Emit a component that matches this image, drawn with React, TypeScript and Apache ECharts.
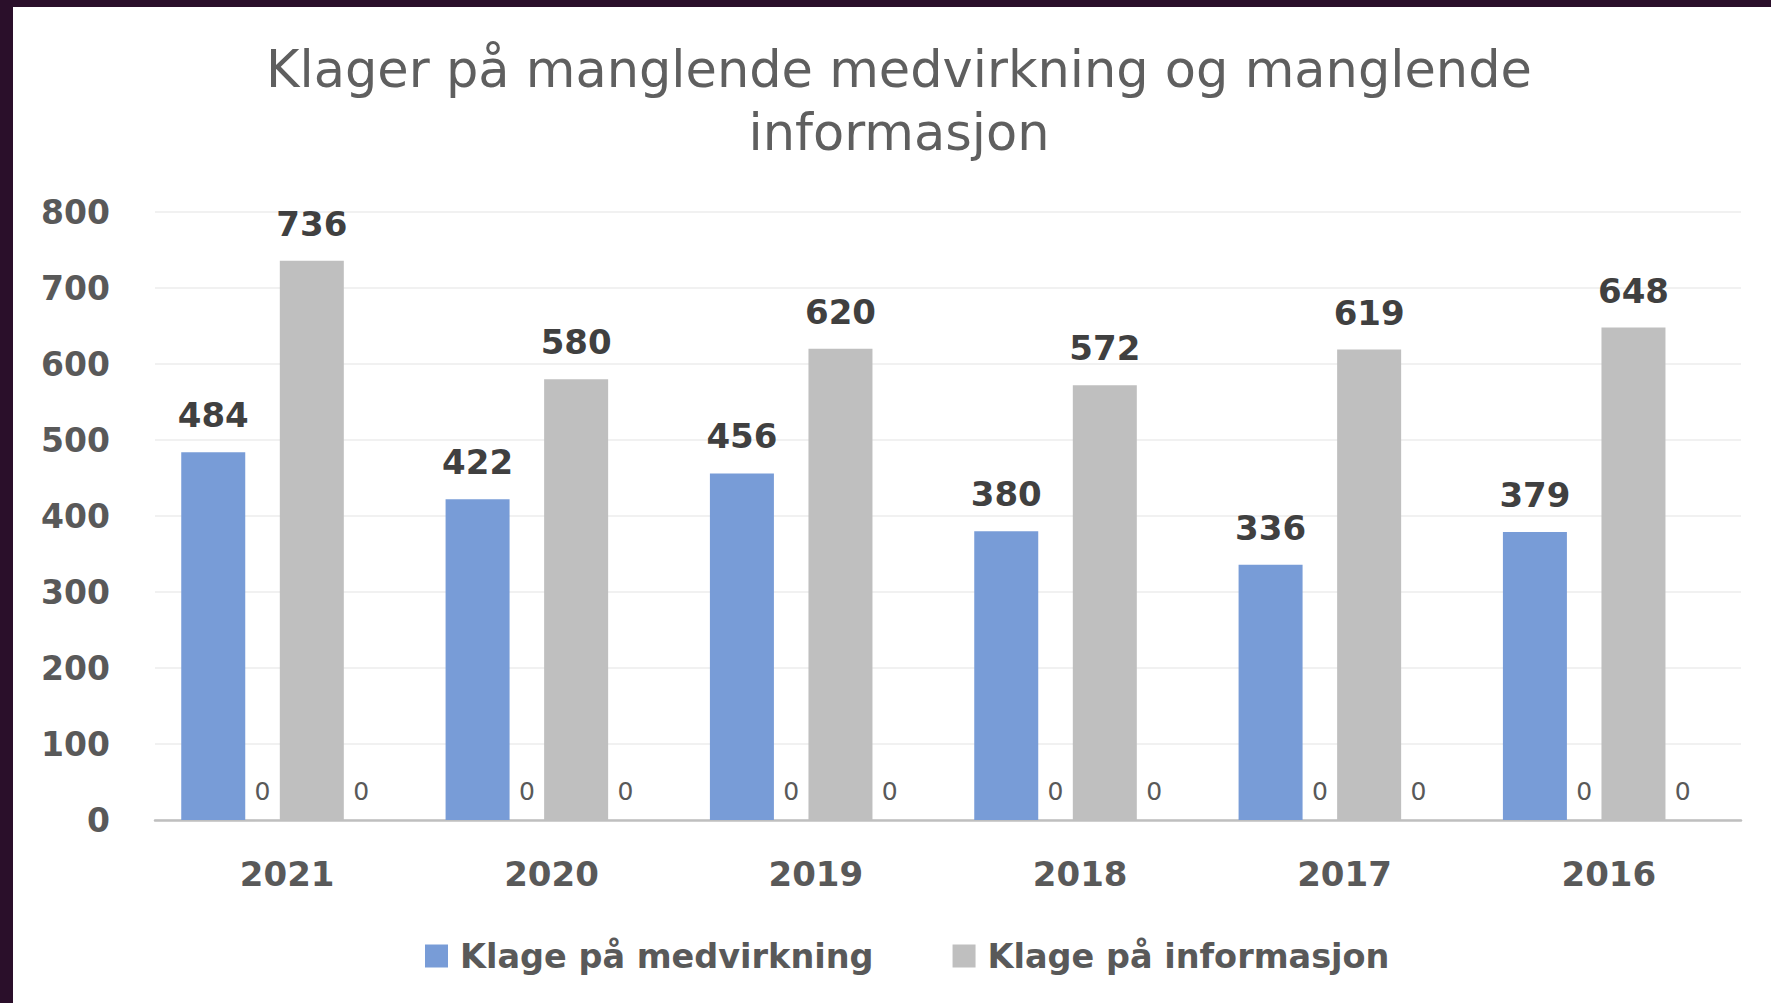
import React, { useEffect, useRef } from "react";
import * as echarts from "echarts";

const titleLines = ["Klager på manglende medvirkning og manglende", "informasjon"];
const years = ["2021", "2020", "2019", "2018", "2017", "2016"];
const medvirkning = [484, 422, 456, 380, 336, 379];
const informasjon = [736, 580, 620, 572, 619, 648];
const ekstraA = [0, 0, 0, 0, 0, 0];
const ekstraB = [0, 0, 0, 0, 0, 0];
const yTicks = { min: 0, max: 800, interval: 100 };
const legendNames = ["Klage på medvirkning", "Klage på informasjon"];

const FONT = "DejaVu Sans";

export default function App() {
  const ref = useRef<HTMLDivElement>(null);
  useEffect(() => {
    document.body.style.margin = "0";
    const chart = echarts.init(ref.current!, null, { renderer: "svg" });
    const valueLabel = {
      show: true,
      position: "top",
      distance: 20,
      fontFamily: FONT,
      fontWeight: "bold",
      fontSize: 34,
      color: "#404040",
    };
    const zeroLabel = {
      show: true,
      position: "top",
      distance: 16,
      fontFamily: FONT,
      fontSize: 25,
      color: "#595959",
    };
    chart.setOption({
      animation: false,
      backgroundColor: "#ffffff",
      title: {
        text: titleLines.join("\n"),
        left: 899,
        textAlign: "center",
        top: 38,
        padding: 0,
        textStyle: {
          fontFamily: FONT,
          fontWeight: "normal",
          fontSize: 51,
          lineHeight: 63,
          color: "#5f5f5f",
        },
      },
      legend: {
        data: legendNames,
        left: 420,
        top: 934,
        itemWidth: 23,
        itemHeight: 23,
        itemGap: 79,
        icon: "rect",
        textStyle: {
          fontFamily: FONT,
          fontWeight: "bold",
          fontSize: 33.5,
          color: "#595959",
          padding: [0, 0, 0, 7],
        },
      },
      grid: { left: 155, right: 30, top: 212, bottom: 183, containLabel: false },
      xAxis: {
        type: "category",
        data: years,
        axisTick: { show: false },
        axisLine: { lineStyle: { color: "#bfbfbf", width: 2.5 } },
        axisLabel: {
          fontFamily: FONT,
          fontWeight: "bold",
          fontSize: 34,
          color: "#595959",
          margin: 37,
        },
      },
      yAxis: {
        type: "value",
        min: yTicks.min,
        max: yTicks.max,
        interval: yTicks.interval,
        axisLine: { show: false },
        axisTick: { show: false },
        splitLine: { lineStyle: { color: "#ececec", width: 1.5 } },
        axisLabel: {
          fontFamily: FONT,
          fontWeight: "bold",
          fontSize: 33,
          color: "#595959",
          margin: 45,
        },
      },
      graphic: [
        { type: "rect", shape: { x: 0, y: 0, width: 1771, height: 7 }, style: { fill: "#2a0f2a" }, z: 100 },
        { type: "rect", shape: { x: 0, y: 0, width: 13, height: 1003 }, style: { fill: "#2a0f2a" }, z: 100 },
      ],
      series: [
        {
          name: legendNames[0],
          type: "bar",
          data: medvirkning,
          barWidth: 64,
          barGap: "-23%",
          itemStyle: { color: "#789cd7" },
          label: valueLabel,
        },
        {
          name: "Serie 2",
          type: "bar",
          data: ekstraA,
          barWidth: 64,
          barGap: "-23%",
          itemStyle: { color: "#ed7d31" },
          label: zeroLabel,
        },
        {
          name: legendNames[1],
          type: "bar",
          data: informasjon,
          barWidth: 64,
          barGap: "-23%",
          itemStyle: { color: "#bfbfbf" },
          label: valueLabel,
        },
        {
          name: "Serie 4",
          type: "bar",
          data: ekstraB,
          barWidth: 64,
          barGap: "-23%",
          itemStyle: { color: "#ffc000" },
          label: zeroLabel,
        },
      ],
    });
    return () => chart.dispose();
  }, []);
  return <div ref={ref} style={{ position: "fixed", left: 0, top: 0, width: 1771, height: 1003 }} />;
}
